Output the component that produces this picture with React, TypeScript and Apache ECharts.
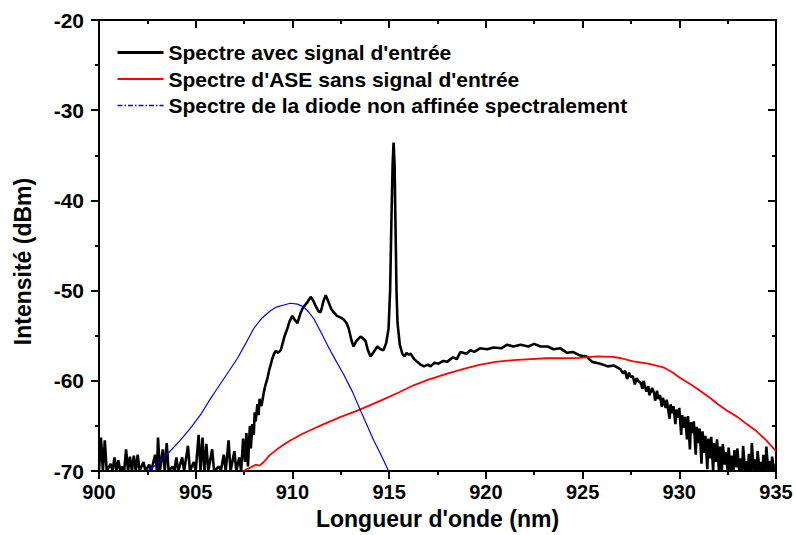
import React, { useEffect, useRef } from "react";
import * as echarts from "echarts";

// Wavelength axis (nm) and intensity axis (dBm)
const xTicks = [900, 905, 910, 915, 920, 925, 930, 935];
const yTicks = [-70, -60, -50, -40, -30, -20];

const legendNames = [
  "Spectre avec signal d'entrée",
  "Spectre d'ASE sans signal d'entrée",
  "Spectre de la diode non affinée spectralement",
];

// Black: spectrum with input signal [nm, dBm]
const signalSpectrum: [number, number][] = [
  [900.0, -70], [900.1, -66.3], [900.2, -70], [900.3, -66.6], [900.4, -70], [900.6, -69.2], [900.7, -70],
  [900.8, -68.5], [900.9, -70], [901.0, -68.8], [901.1, -70], [901.2, -69.5], [901.3, -70], [901.4, -67.6],
  [901.5, -70], [901.6, -68.4], [901.7, -70], [901.8, -68.3], [901.9, -70], [902.0, -68.2], [902.1, -70],
  [902.3, -69.0], [902.4, -70], [902.6, -69.3], [902.7, -70], [902.9, -68.2], [903.0, -70], [903.05, -66.3],
  [903.15, -70], [903.3, -67.6], [903.4, -70], [903.5, -66.9], [903.6, -70], [903.8, -69.5], [903.9, -70],
  [904.0, -68.5], [904.1, -70], [904.3, -68.5], [904.4, -70], [904.6, -67.2], [904.7, -70], [904.9, -69.0],
  [905.0, -70], [905.15, -66.0], [905.25, -70], [905.35, -66.3], [905.45, -70], [905.55, -67.0], [905.65, -70],
  [905.85, -67.6], [905.95, -70], [906.2, -69.5], [906.3, -70], [906.45, -68.2], [906.55, -70], [906.7, -66.6],
  [906.8, -70], [907.0, -67.8], [907.1, -70], [907.25, -68.5], [907.35, -70], [907.45, -66.4], [907.55, -69.0],
  [907.62, -65.8], [907.7, -69.5], [907.8, -65.0], [907.85, -67.5], [907.93, -64.8], [908.0, -66.0],
  [908.05, -63.5], [908.1, -64.5], [908.19, -62.6], [908.25, -63.8], [908.3, -62.0], [908.4, -62.8],
  [908.52, -61.3], [908.6, -60.5], [908.7, -59.8], [908.8, -58.8], [908.88, -58.2], [908.95, -57.6],
  [909.05, -57.0], [909.14, -56.7], [909.25, -56.9], [909.4, -56.6], [909.5, -55.8], [909.6, -55.0],
  [909.74, -54.2], [909.85, -53.4], [910.0, -52.8], [910.1, -53.2], [910.26, -53.6], [910.4, -52.6],
  [910.52, -52.0], [910.65, -51.6], [910.77, -51.3], [910.94, -50.7], [911.05, -51.0], [911.2, -51.7],
  [911.35, -52.3], [911.46, -52.4], [911.6, -51.2], [911.72, -50.5], [911.87, -51.3], [912.0, -52.0],
  [912.13, -52.4], [912.3, -52.8], [912.5, -53.0], [912.65, -53.2], [912.8, -53.6], [912.91, -54.2],
  [913.05, -55.5], [913.16, -56.2], [913.3, -55.6], [913.52, -55.1], [913.65, -55.3], [913.78, -55.6],
  [913.9, -56.6], [914.04, -57.3], [914.2, -56.8], [914.39, -56.2], [914.55, -56.5], [914.71, -56.6],
  [914.85, -55.8], [914.97, -54.2], [915.05, -50.0], [915.12, -42.0], [915.18, -36.0], [915.23, -33.6],
  [915.28, -36.0], [915.33, -43.0], [915.38, -50.0], [915.43, -53.5], [915.55, -56.0], [915.68, -57.0],
  [915.8, -57.3], [915.9, -56.9], [916.0, -57.1], [916.11, -57.0], [916.3, -57.6], [916.45, -57.9],
  [916.62, -58.2], [916.8, -58.4], [917.0, -58.2], [917.14, -58.4], [917.35, -58.0], [917.55, -58.1],
  [917.8, -57.8], [918.0, -57.9], [918.3, -57.4], [918.5, -57.6], [918.69, -56.8], [919.0, -57.0],
  [919.2, -56.6], [919.4, -56.8], [919.7, -56.4], [920.07, -56.5], [920.4, -56.3], [920.8, -56.4],
  [921.1, -56.0], [921.42, -56.2], [921.8, -56.0], [922.2, -56.2], [922.5, -55.9], [922.82, -56.2],
  [923.2, -56.2], [923.5, -56.5], [923.85, -56.4], [924.2, -56.9], [924.5, -56.8], [924.88, -57.2],
  [925.2, -57.3], [925.5, -57.9], [925.92, -58.1], [926.3, -58.4], [926.6, -58.3], [926.95, -58.7],
  [927.1, -59.2], [927.2, -58.9], [927.3, -59.8], [927.4, -59.1], [927.5, -59.6], [927.6, -59.5],
  [927.7, -60.4], [927.8, -59.7], [927.9, -60.1], [928.0, -60.2], [928.1, -60.9], [928.15, -60.0],
  [928.3, -61.2], [928.4, -60.6], [928.45, -61.6], [928.6, -60.8], [928.7, -61.4], [928.75, -62.2],
  [928.85, -61.1], [928.9, -62.0], [929.0, -61.6], [929.1, -62.9], [929.15, -61.9], [929.3, -63.0],
  [929.35, -62.1], [929.5, -64.2], [929.55, -62.6], [929.65, -63.6], [929.7, -62.8], [929.8, -64.8],
  [929.85, -63.2], [929.95, -64.1], [930.0, -63.0], [930.1, -66.0], [930.15, -63.8], [930.25, -65.2],
  [930.3, -64.0], [930.4, -66.5], [930.45, -63.9], [930.55, -67.6], [930.6, -64.6], [930.7, -65.8],
  [930.75, -64.5], [930.85, -68.2], [930.9, -65.1], [931.0, -66.9], [931.05, -65.3], [931.15, -69.2],
  [931.2, -65.6], [931.3, -68.0], [931.35, -66.1], [931.45, -69.8], [931.5, -66.4], [931.6, -68.6],
  [931.65, -66.2], [931.75, -70], [931.8, -66.9], [931.9, -69.0], [931.95, -66.5], [932.05, -70],
  [932.1, -67.3], [932.2, -70], [932.25, -67.0], [932.35, -69.3], [932.4, -67.9], [932.5, -70],
  [932.55, -67.4], [932.65, -70], [932.7, -68.3], [932.8, -70], [932.85, -67.7], [932.95, -69.6],
  [933.0, -67.5], [933.1, -70], [933.15, -68.6], [933.25, -70], [933.3, -67.2], [933.4, -70],
  [933.45, -68.9], [933.55, -70], [933.6, -68.1], [933.7, -70], [933.75, -66.9], [933.85, -70],
  [933.9, -68.7], [934.0, -70], [934.05, -67.8], [934.15, -70], [934.2, -69.0], [934.3, -70],
  [934.35, -68.2], [934.45, -70], [934.5, -67.3], [934.6, -70], [934.65, -68.9], [934.75, -70],
  [934.8, -68.4], [934.9, -70], [935.0, -69.3],
];

// Red: ASE spectrum without input signal
const aseSpectrum: [number, number][] = [
  [907.45, -70], [907.85, -69.6], [908.1, -69.3], [908.3, -69.4], [908.52, -69.0], [908.8, -68.3],
  [909.2, -67.6], [909.6, -67.0], [909.91, -66.6], [910.5, -65.9], [911.0, -65.4], [911.62, -64.8],
  [912.5, -64.0], [913.36, -63.3], [914.56, -62.2], [915.5, -61.3], [916.26, -60.5], [917.0, -59.9],
  [918.0, -59.2], [919.0, -58.6], [919.72, -58.2], [920.5, -57.9], [921.42, -57.7], [922.3, -57.6],
  [923.16, -57.5], [924.0, -57.5], [924.88, -57.45], [925.74, -57.3], [926.59, -57.35], [927.0, -57.5],
  [927.62, -57.85], [928.4, -58.1], [929.17, -58.5], [929.6, -59.0], [930.05, -59.7], [930.6, -60.4],
  [931.08, -61.1], [931.6, -61.9], [932.0, -62.6], [932.46, -63.3], [933.0, -64.0], [933.49, -64.8],
  [933.95, -65.5], [934.5, -66.6], [935.0, -67.8],
];

// Blue: diode spectrum (not spectrally narrowed)
const diodeSpectrum: [number, number][] = [
  [902.5, -70], [902.9, -69.4], [903.3, -68.6], [903.72, -67.7], [904.2, -66.6], [904.75, -65.2],
  [905.3, -63.6], [905.7, -62.2], [906.13, -60.8], [906.6, -59.3], [907.16, -57.5], [907.6, -55.8],
  [908.0, -54.2], [908.4, -53.1], [908.88, -52.2], [909.2, -51.8], [909.55, -51.6], [909.9, -51.4],
  [910.26, -51.5], [910.58, -51.8], [910.85, -52.4], [911.1, -53.1], [911.45, -54.5], [911.8, -56.0],
  [912.2, -57.6], [912.65, -59.3], [913.1, -61.2], [913.52, -63.3], [913.85, -64.9], [914.2, -66.6],
  [914.6, -68.3], [914.97, -70],
];

const FONT = "'Liberation Sans', Arial, sans-serif";

export default function App() {
  const ref = useRef<HTMLDivElement>(null);

  useEffect(() => {
    if (!ref.current) return;
    const chart = echarts.init(ref.current, undefined, { renderer: "svg" });
    const axisLine = { show: true, onZero: false, lineStyle: { color: "#000", width: 2 } };
    const labelStyle = { color: "#000", fontSize: 20, fontWeight: "bold" as const, fontFamily: FONT };
    const nameStyle = { color: "#000", fontSize: 23, fontWeight: "bold" as const, fontFamily: FONT };
    const tick = (inside: boolean) => ({ show: true, inside, length: 8, lineStyle: { color: "#000", width: 2 } });
    const minor = { show: true, splitNumber: 2, length: 4, lineStyle: { color: "#000", width: 2 } };
    chart.setOption({
      animation: false,
      backgroundColor: "#fff",
      grid: { left: 99, right: 20, top: 20, bottom: 61, containLabel: false },
      legend: {
        show: true,
        orient: "vertical",
        left: 111,
        top: 37,
        itemWidth: 46,
        itemHeight: 14,
        itemGap: 5.5,
        itemStyle: { opacity: 0 },
        textStyle: { color: "#000", fontSize: 21, fontWeight: "bold", fontFamily: FONT, lineHeight: 21 },
        data: [
          { name: legendNames[0], itemStyle: { opacity: 0 }, lineStyle: { width: 3 } },
          { name: legendNames[1], itemStyle: { opacity: 0 }, lineStyle: { width: 2.2 } },
          { name: legendNames[2], itemStyle: { opacity: 0 }, lineStyle: { type: [5, 2, 1.5, 2], width: 1.3 } },
        ],
        selectedMode: false,
      },
      xAxis: [
        {
          type: "value",
          min: xTicks[0],
          max: xTicks[xTicks.length - 1],
          interval: 5,
          position: "bottom",
          name: "Longueur d'onde (nm)",
          nameLocation: "middle",
          nameGap: 36,
          nameTextStyle: nameStyle,
          axisLine,
          axisTick: tick(false),
          minorTick: minor,
          axisLabel: { ...labelStyle, margin: 11 },
          splitLine: { show: false },
        },
        {
          type: "value",
          min: xTicks[0],
          max: xTicks[xTicks.length - 1],
          interval: 5,
          position: "top",
          axisLine,
          axisTick: tick(true),
          minorTick: minor,
          axisLabel: { show: false },
          splitLine: { show: false },
        },
      ],
      yAxis: [
        {
          type: "value",
          min: yTicks[0],
          max: yTicks[yTicks.length - 1],
          interval: 10,
          position: "left",
          name: "Intensité (dBm)",
          nameLocation: "middle",
          nameGap: 65,
          nameTextStyle: { ...nameStyle, padding: [0, 32, 0, 0] },
          axisLine,
          axisTick: tick(false),
          minorTick: minor,
          axisLabel: { ...labelStyle, fontSize: 21, margin: 15 },
          splitLine: { show: false },
        },
        {
          type: "value",
          min: yTicks[0],
          max: yTicks[yTicks.length - 1],
          interval: 10,
          position: "right",
          axisLine,
          axisTick: tick(true),
          minorTick: minor,
          axisLabel: { show: false },
          splitLine: { show: false },
        },
      ],
      series: [
        {
          name: legendNames[0],
          type: "line",
          data: signalSpectrum,
          symbol: "none",
          color: "#000",
          lineStyle: { color: "#000", width: 2.6 },
          clip: true,
        },
        {
          name: legendNames[1],
          type: "line",
          data: aseSpectrum,
          symbol: "none",
          color: "#ff0000",
          lineStyle: { color: "#ff0000", width: 1.8 },
          clip: true,
        },
        {
          name: legendNames[2],
          type: "line",
          data: diodeSpectrum,
          symbol: "none",
          color: "#0000ff",
          lineStyle: { color: "#0000ff", width: 1.2 },
          clip: true,
        },
      ],
    });
    return () => chart.dispose();
  }, []);

  return <div ref={ref} style={{ width: 796, height: 535, position: "absolute", left: 0, top: 0 }} />;
}
